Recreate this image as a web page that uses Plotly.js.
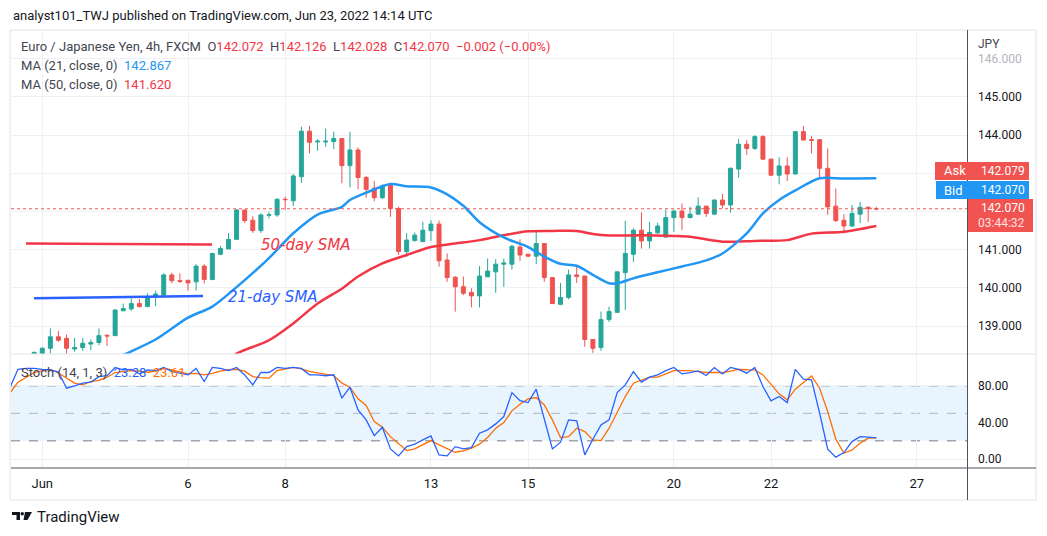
<!DOCTYPE html>
<html><head><meta charset="utf-8">
<script src="https://cdn.plot.ly/plotly-3.0.1.min.js"></script>
<style>html,body{margin:0;padding:0;background:#fff;}#chart{width:1047px;height:536px;}</style>
</head><body><div id="chart"></div>
<script>
// ---- DATA (EUR/JPY 4h) ----
const candleStart = -1; // bar index of first candle (Jun 1 00:00 = 0)
const openP  = [138.27,138.28,138.42,138.72,138.68,138.40,138.44,138.53,138.57,138.76,138.75,139.40,139.45,139.59,139.51,139.77,139.81,140.34,140.19,140.20,140.16,140.57,140.22,140.88,141.02,141.27,142.04,141.77,141.50,141.90,141.91,142.32,142.28,142.91,144.10,143.82,143.82,143.83,143.91,143.20,143.61,142.89,142.61,142.36,142.69,142.08,140.95,141.24,141.21,141.50,141.67,140.73,140.28,140.03,139.88,139.79,140.29,140.42,140.62,140.62,141.07,140.88,140.83,141.16,140.27,139.57,139.75,140.34,140.31,138.65,138.44,139.17,139.36,140.40,140.88,141.51,141.23,141.44,141.33,141.84,142.01,141.84,141.93,142.14,141.93,142.30,142.17,143.11,143.76,143.65,143.96,143.37,142.95,143.19,142.98,144.09,143.88,143.88,143.13,142.14,141.77,141.62,141.93,142.11,142.072];
const highP  = [138.34,138.45,138.94,138.87,138.78,138.69,138.69,138.65,138.94,138.78,139.44,139.59,139.72,139.71,139.86,139.93,140.38,140.40,140.38,140.20,140.62,140.62,140.92,141.10,141.43,142.06,142.04,141.88,141.95,141.99,142.34,142.39,142.98,144.22,144.24,143.89,144.17,144.09,143.91,144.09,143.68,142.93,142.80,142.71,142.69,142.12,141.43,141.45,141.73,141.77,141.76,140.90,140.31,140.30,139.99,140.57,140.77,140.75,140.77,141.12,141.27,140.89,141.47,141.17,140.27,140.13,140.48,140.60,140.31,138.65,139.38,139.51,140.43,141.76,141.56,141.98,141.73,141.71,142.05,142.05,142.21,142.12,142.37,142.15,142.32,142.46,143.15,143.90,143.87,144.00,144.00,143.38,143.42,143.42,144.11,144.24,143.97,143.89,143.65,142.60,141.93,142.17,142.25,142.13,142.126];
const lowP   = [138.20,138.25,138.28,138.59,138.28,138.33,138.35,138.37,138.50,138.48,138.74,139.40,139.40,139.49,139.51,139.52,139.81,140.12,140.13,139.93,139.93,140.12,140.20,140.86,141.02,141.27,141.70,141.44,141.44,141.82,141.86,142.04,142.14,142.75,143.52,143.59,143.69,143.63,142.74,142.63,142.58,142.36,142.27,142.32,141.86,140.86,140.81,141.21,141.21,141.23,140.55,140.16,139.38,139.81,139.49,139.49,140.29,139.87,140.03,140.48,140.71,140.82,140.62,140.16,139.59,139.55,139.70,140.13,138.46,138.30,138.35,139.11,139.35,139.42,140.68,141.03,141.03,141.41,141.32,141.47,141.51,141.82,141.92,141.86,141.92,142.08,141.97,142.88,143.48,143.61,143.35,142.94,142.71,142.80,142.97,143.86,143.52,142.88,141.91,141.73,141.43,141.60,141.70,141.73,142.028];
const closeP = [138.31,138.42,138.72,138.63,138.42,138.44,138.55,138.57,138.75,138.74,139.42,139.46,139.59,139.51,139.77,139.84,140.34,140.19,140.17,140.13,140.57,140.22,140.90,141.03,141.27,142.04,141.76,141.50,141.91,141.92,142.32,142.31,142.93,144.10,143.81,143.84,143.84,143.91,143.20,143.61,142.89,142.58,142.36,142.67,142.08,140.95,141.25,141.38,141.51,141.67,140.71,140.27,140.03,139.86,139.79,140.31,140.44,140.62,140.65,141.09,140.86,140.83,141.16,140.27,139.59,139.75,140.34,140.30,138.65,138.42,139.17,139.38,140.42,140.90,141.51,141.23,141.45,141.62,141.84,142.01,141.84,141.93,142.14,141.95,142.30,142.17,143.13,143.76,143.65,143.96,143.37,142.95,143.19,142.98,144.09,143.87,143.86,143.13,142.12,141.76,141.62,141.95,142.11,142.08,142.070];

// moving averages (bar index, value)
const ma21Idx = [9,10,14,18,21,24,28,31,34,37,38,40,43,45,48,50,52,54,57,60,62,64,66,68,70,71,73,76,79,82,84,87,89,91,93,96,99,103];
const ma21Val = [138.12,138.24,138.65,139.22,139.51,140.02,140.78,141.43,141.92,142.12,142.30,142.49,142.72,142.66,142.63,142.45,142.15,141.72,141.32,141.07,140.82,140.63,140.58,140.34,140.12,140.12,140.25,140.41,140.56,140.72,140.90,141.43,141.95,142.30,142.55,142.87,142.86,142.867];
const ma50Idx = [23,24,28,31,34,37,39,42,45,48,51,54,57,60,63,66,68,70,74,78,80,84,88,92,95,99,103];
const ma50Val = [138.10,138.28,138.63,139.07,139.59,139.98,140.30,140.64,140.86,141.07,141.16,141.25,141.38,141.48,141.49,141.49,141.41,141.37,141.38,141.36,141.34,141.21,141.23,141.25,141.42,141.47,141.620];

// stochastic (14,1,3)
const stochStart = -4;
const stochK = [78,98,99,99,98,97.4,95,77.4,80,83,84,90,91,100,97.4,98,93,97.4,96.6,100,95.7,94,91.9,99,84.6,100,99,96.6,100,91.9,81,94.5,94.5,100,99,100,99,92,92,91,92,66.5,78.5,53.8,42.9,25.7,34.9,11.2,3.6,13.7,16.4,21,25.4,4.7,3.6,13.7,11.2,12.7,28.4,32,38.5,46.5,72.6,63.9,61.7,76.3,42.9,11.2,18.5,42.9,41.8,4.7,21.8,37.4,42.9,72.6,81,95.5,84,89.4,91.9,96.6,100,93,94.5,96.2,91.2,99.9,93,100,98,93.8,100,79.2,63.6,68.3,61.7,98,87.2,86.5,50.2,10.9,2.2,7.2,19.2,24.6,24,23.28];
const stochD = [72,84,89,94.5,96.5,98,94,88.3,83,81,84.7,86,89.4,94.5,95.5,96.6,96,94.8,96,99,97.4,95.5,93,93.5,91.9,93.5,96,97.5,98,96,90,89,88.3,96.6,98.5,100,98.5,95.7,94,92.5,91,82.9,78.5,65.8,58.5,41,34.9,24.6,17.4,9.4,11.2,15.6,20.3,15.6,12,7.6,9,12,16.4,23.6,33.8,39.9,52.7,60,65.8,67.2,59.2,42.9,23.6,24.6,33.8,30.1,21,20.3,33.8,51.9,68.3,82.9,86.5,89.4,89.4,93,96.6,96.6,96.6,95.5,94.5,94.5,94.5,96,98,97.5,97.4,91.9,81,71.2,64.7,76.3,83.5,90.8,77.4,51.9,21.8,6.5,10.1,17.4,22.9,23.61];

// x-axis ticks (bar index of each day start) and labels
const dayTickIdx = [0,18,30,48,60,78,90,108];
const dayTickText = ['Jun','6','8','13','15','20','22','27'];
const priceTicks = [139,140,141,142,143,144,145,146];
const priceTickText = ['139.000','140.000','141.000','','','144.000','145.000','<span style="color:#b2b5be">146.000</span>'];
const stochTicks = [0,40,80];
const stochTickText = ['0.00','40.00','80.00'];
const lastPrice = 142.070, askPrice = 142.079, bidPrice = 142.070;

// ---- LAYOUT HELPERS (pixel -> paper) ----
const L=11, R=967, T=30, B=468;
const px = x => (x-L)/(R-L);
const py = y => (B-y)/(B-T);
const FONT = 'Roboto, "Liberation Sans", sans-serif';
const TXT = '#131722';

const cx = openP.map((_,k)=>k+candleStart);
const sx = stochK.map((_,k)=>k+stochStart);

const traces = [
  {type:'candlestick', x:cx, open:openP, high:highP, low:lowP, close:closeP, xaxis:'x', yaxis:'y',
   increasing:{line:{color:'#26a69a',width:1}, fillcolor:'#26a69a'},
   decreasing:{line:{color:'#ef5350',width:1}, fillcolor:'#ef5350'},
   whiskerwidth:0, hoverinfo:'skip', showlegend:false},
  {type:'scatter', mode:'lines', x:ma50Idx, y:ma50Val, xaxis:'x', yaxis:'y',
   line:{color:'#f23645', width:2.5, shape:'spline', smoothing:0.8}, hoverinfo:'skip', showlegend:false},
  {type:'scatter', mode:'lines', x:ma21Idx, y:ma21Val, xaxis:'x', yaxis:'y',
   line:{color:'#2196f3', width:2.5, shape:'spline', smoothing:0.8}, hoverinfo:'skip', showlegend:false},
  {type:'scatter', mode:'lines', x:sx, y:stochD, xaxis:'x2', yaxis:'y2',
   line:{color:'#ff6d00', width:1.3}, hoverinfo:'skip', showlegend:false},
  {type:'scatter', mode:'lines', x:sx, y:stochK, xaxis:'x2', yaxis:'y2',
   line:{color:'#2962ff', width:1.3}, hoverinfo:'skip', showlegend:false}
];

function ann(x, y, text, o) {
  o = o || {};
  return Object.assign({xref:'paper', yref:'paper', x:px(x), y:py(y), text:text, showarrow:false,
    xanchor:'left', yanchor:'middle', font:{family:FONT, size:13, color:TXT}}, o);
}
const red = '#f23645';
const sp = (c,t) => '<span style="color:'+c+'">'+t+'</span>';

const annotations = [
  ann(11, 16, 'analyst101_TWJ published on TradingView.com, Jun 23, 2022 14:14 UTC', {font:{family:FONT,size:13,color:TXT}}),
  ann(19, 46.5, 'Euro / Japanese Yen, 4h, FXCM  O'+sp(red,'142.072')+'  H'+sp(red,'142.126')+'  L'+sp(red,'142.028')+'  C'+sp(red,'142.070')+'  '+sp(red,'−0.002 (−0.00%)'), {font:{family:FONT,size:13,color:'#434651'}}),
  ann(19, 65.5, 'MA (21, close, 0)  '+sp('#2196f3','142.867'), {font:{family:FONT,size:13,color:'#434651'}}),
  ann(19, 84, 'MA (50, close, 0)  '+sp(red,'141.620'), {font:{family:FONT,size:13,color:'#434651'}}),
  ann(19, 372, 'Stoch (14, 1, 3)  '+sp('#2962ff','23.28')+'  '+sp('#ff6d00','23.61'), {font:{family:FONT,size:13,color:'#434651'}}),
  ann(976, 44, 'JPY', {font:{family:FONT,size:12,color:'#434651'}}),
  ann(306, 245, '<i>50-day SMA</i>', {xanchor:'center', font:{family:'"DejaVu Sans", sans-serif', size:15, color:'#f23645'}}),
  ann(273, 297, '<i>21-day SMA</i>', {xanchor:'center', font:{family:'"DejaVu Sans", sans-serif', size:15, color:'#2962ff'}}),
  ann(942, 171, 'Ask', {font:{family:FONT,size:13,color:'#ffffff'}}),
  ann(1027, 171, askPrice.toFixed(3), {xanchor:'right', font:{family:FONT,size:12,color:'#ffffff'}}),
  ann(942, 190, 'Bid', {font:{family:FONT,size:13,color:'#ffffff'}}),
  ann(1027, 190, bidPrice.toFixed(3), {xanchor:'right', font:{family:FONT,size:12,color:'#ffffff'}}),
  ann(1027, 208, lastPrice.toFixed(3), {xanchor:'right', font:{family:FONT,size:12,color:'#ffffff'}}),
  ann(1027, 223, '03:44:32', {xanchor:'right', font:{family:FONT,size:12,color:'#fde0e2'}}),
  ann(35, 517, 'TradingView', {font:{family:FONT,size:15,color:TXT}})
];

function rectPx(x0,y0,x1,y1,o){
  return Object.assign({type:'rect', xref:'paper', yref:'paper', x0:px(x0), x1:px(x1), y0:py(y1), y1:py(y0), line:{width:0}}, o||{});
}
function linePx(x0,y0,x1,y1,color,w,o){
  return Object.assign({type:'line', xref:'paper', yref:'paper', x0:px(x0), y0:py(y0), x1:px(x1), y1:py(y1), line:{color:color,width:w}}, o||{});
}
function pathPx(pts, fill){
  const d = pts.map((p,k)=>(k?'L':'M')+px(p[0])+','+py(p[1])).join(' ')+' Z';
  return {type:'path', xref:'paper', yref:'paper', path:d, fillcolor:fill, line:{width:0}};
}

const shapes = [
  // stoch 20-80 band
  {type:'rect', xref:'paper', yref:'y2', x0:0, x1:1, y0:20, y1:80, fillcolor:'rgba(33,150,243,0.1)', line:{width:0}, layer:'below'},
  {type:'line', xref:'paper', yref:'y2', x0:0, x1:1, y0:80, y1:80, line:{color:'#787b86', width:1, dash:'dash'}, layer:'below'},
  {type:'line', xref:'paper', yref:'y2', x0:0, x1:1, y0:50, y1:50, line:{color:'#b2b5be', width:1, dash:'dash'}, layer:'below'},
  {type:'line', xref:'paper', yref:'y2', x0:0, x1:1, y0:20, y1:20, line:{color:'#787b86', width:1, dash:'dash'}, layer:'below'},
  // last price dotted line
  {type:'line', xref:'paper', yref:'y', x0:0, x1:1, y0:lastPrice, y1:lastPrice, line:{color:'#ef5350', width:1, dash:'dot'}},
  // hand-drawn lines
  linePx(26,243.5,212,244.5,'#f23645',2.5),
  linePx(34,298.3,203,296,'#2962ff',2.5),
  // frame
  rectPx(10,30,1036,500,{line:{color:'#e0e3eb',width:1}, fillcolor:'rgba(0,0,0,0)', layer:'below'}),
  linePx(11,354,1036,354,'#e0e3eb',1),
  linePx(11,468,1036,468,'#50535e',1),
  linePx(967.5,30,967.5,500,'#50535e',1),
  // price labels
  rectPx(935,162,1029,180,{fillcolor:'#f05350'}),
  rectPx(936,181,1029,199,{fillcolor:'#2196f3'}),
  rectPx(968,199,1033,232,{fillcolor:'#f05350'}),
  // logo
  rectPx(12,512,20,515,{fillcolor:TXT}),
  rectPx(16.5,512,20,520,{fillcolor:TXT}),
  {type:'circle', xref:'paper', yref:'paper', x0:px(20.5), x1:px(24), y0:py(515.5), y1:py(512), fillcolor:TXT, line:{width:0}},
  pathPx([[25,512],[32,512],[27.5,520],[23.5,520]], TXT)
];

const gridc = '#edf0f5';
const layout = {
  width:1047, height:536,
  margin:{l:L, r:1047-R, t:T, b:536-B, pad:0},
  paper_bgcolor:'#ffffff', plot_bgcolor:'#ffffff',
  showlegend:false, hovermode:false, dragmode:false,
  font:{family:FONT, size:12, color:TXT},
  xaxis:{domain:[0,1], anchor:'y', range:[-3.86,114.2], tickmode:'array', tickvals:dayTickIdx, ticktext:dayTickText,
         showticklabels:false, showgrid:true, gridcolor:gridc, zeroline:false, showline:false, ticks:'',
         rangeslider:{visible:false}, fixedrange:true},
  xaxis2:{domain:[0,1], anchor:'y2', matches:'x', range:[-3.86,114.2], tickmode:'array', tickvals:dayTickIdx, ticktext:dayTickText,
          showgrid:true, gridcolor:gridc, zeroline:false, showline:false, ticks:'', ticklabelstandoff:6,
          tickfont:{family:FONT, size:13, color:TXT}, fixedrange:true},
  yaxis:{domain:[0.2603,1], anchor:'x', side:'right', range:[138.27,146.75], tickmode:'array', tickvals:priceTicks, ticktext:priceTickText,
         showgrid:true, gridcolor:gridc, zeroline:false, showline:false, ticks:'', ticklabelstandoff:10,
         tickfont:{family:FONT, size:12, color:TXT}, fixedrange:true},
  yaxis2:{domain:[0,0.2603], anchor:'x2', side:'right', range:[-9.6,114.7], tickmode:'array', tickvals:stochTicks, ticktext:stochTickText,
          showgrid:true, gridcolor:gridc, zeroline:false, showline:false, ticks:'', ticklabelstandoff:10,
          tickfont:{family:FONT, size:12, color:TXT}, fixedrange:true},
  shapes:shapes,
  annotations:annotations
};

Plotly.newPlot('chart', traces, layout, {staticPlot:true, displayModeBar:false});
</script>
</body></html>
